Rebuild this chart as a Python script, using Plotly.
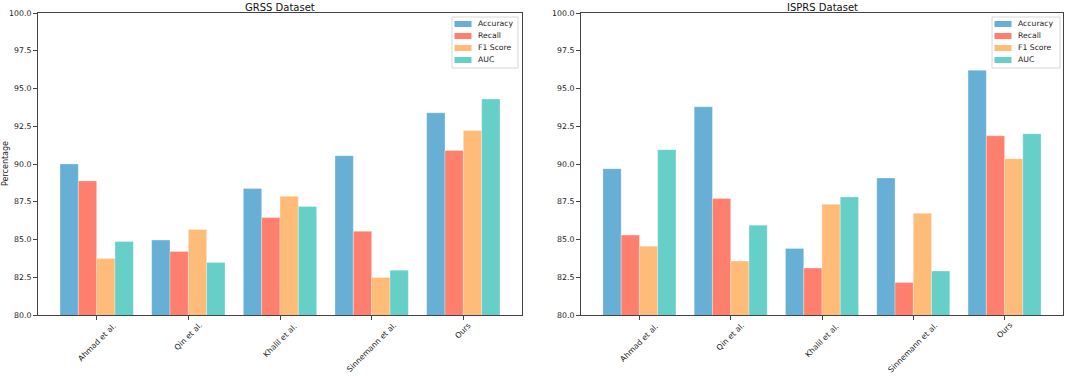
import plotly.graph_objects as go

methods = ["Ahmad et al.", "Qin et al.", "Khalil et al.", "Sinnemann et al.", "Ours"]
metrics = ["Accuracy", "Recall", "F1 Score", "AUC"]
colors = ["#67AFD5", "#FF7F6E", "#FFBB78", "#66CFC8"]

grss_accuracy = [90.00, 84.96, 88.37, 90.55, 93.39]
grss_recall = [88.88, 84.21, 86.45, 85.55, 90.90]
grss_f1 = [83.74, 85.66, 87.86, 82.49, 92.22]
grss_auc = [84.87, 83.48, 87.18, 82.97, 94.30]

isprs_accuracy = [89.69, 93.79, 84.41, 89.07, 96.21]
isprs_recall = [85.29, 87.71, 83.11, 82.16, 91.87]
isprs_f1 = [84.56, 83.57, 87.33, 86.74, 90.35]
isprs_auc = [90.95, 85.95, 87.82, 82.91, 92.00]

grss = [grss_accuracy, grss_recall, grss_f1, grss_auc]
isprs = [isprs_accuracy, isprs_recall, isprs_f1, isprs_auc]

W, H = 1065, 376
FONT = "DejaVu Sans"
TXT = "#222"
TICK_SIZE = 7.8

fig = go.Figure()

for i, m in enumerate(metrics):
    fig.add_trace(go.Bar(
        x=methods, y=grss[i], name=m, marker_color=colors[i],
        marker_line_width=0.6, marker_line_color="rgba(255,255,255,0.5)",
        xaxis="x", yaxis="y", showlegend=False, offsetgroup=str(i),
    ))
for i, m in enumerate(metrics):
    fig.add_trace(go.Bar(
        x=methods, y=isprs[i], name=m, marker_color=colors[i],
        marker_line_width=0.6, marker_line_color="rgba(255,255,255,0.5)",
        xaxis="x2", yaxis="y2", showlegend=False, offsetgroup=str(i),
    ))

left1, right1 = 38 / W, 522 / W
left2, right2 = 581 / W, 1063 / W
top, bottom = 1 - 13 / H, 1 - 315 / H

axis_common = dict(
    showline=True, linecolor="#444", linewidth=1, mirror=True,
    ticks="outside", ticklen=4, tickcolor="#444",
    tickfont=dict(family=FONT, size=TICK_SIZE, color=TXT),
    showgrid=False, zeroline=False, automargin=False,
)

# x tick labels are drawn as rotated, centred annotations (matplotlib rotation=45, ha='center')
xcommon = dict(axis_common, type="category", range=[-0.64, 4.64], showticklabels=False)
ycommon = dict(axis_common, range=[80, 100], dtick=2.5, tick0=80, tickformat=".1f")

shapes = []
annotations = []

def px_x(v):
    return v / W

def px_y(v):
    return 1 - v / H

for xref in ["x", "x2"]:
    for name in methods:
        annotations.append(dict(
            text=name, x=name, xref=xref, y=bottom, yref="paper",
            xanchor="center", yanchor="top", yshift=-5, textangle=-45,
            showarrow=False, borderpad=0,
            font=dict(family=FONT, size=TICK_SIZE, color=TXT),
        ))

# manual legends (matplotlib-style compact boxes)
for box_left, box_right in [(452, 518), (992, 1060)]:
    shapes.append(dict(
        type="rect", xref="paper", yref="paper",
        x0=px_x(box_left), x1=px_x(box_right), y0=px_y(68), y1=px_y(17),
        line=dict(color="#d8d8d8", width=1), fillcolor="rgba(255,255,255,0.85)", layer="above",
    ))
    for i, m in enumerate(metrics):
        yc = 24 + 12 * i
        shapes.append(dict(
            type="rect", xref="paper", yref="paper",
            x0=px_x(box_left + 2.5), x1=px_x(box_left + 19.5),
            y0=px_y(yc + 3), y1=px_y(yc - 3),
            line=dict(width=0), fillcolor=colors[i], layer="above",
        ))
        annotations.append(dict(
            text=m, x=px_x(box_left + 24), y=px_y(yc), xref="paper", yref="paper",
            xanchor="left", yanchor="middle", showarrow=False,
            font=dict(family=FONT, size=7.7, color=TXT),
        ))

annotations += [
    dict(text="GRSS Dataset", x=(left1 + right1) / 2, y=top, xref="paper", yref="paper",
         xanchor="center", yanchor="bottom", showarrow=False, yshift=-2,
         font=dict(family=FONT, size=10, color="#111")),
    dict(text="ISPRS Dataset", x=(left2 + right2) / 2, y=top, xref="paper", yref="paper",
         xanchor="center", yanchor="bottom", showarrow=False, yshift=-2,
         font=dict(family=FONT, size=10, color="#111")),
    dict(text="Percentage", x=5 / W, y=(top + bottom) / 2, xref="paper", yref="paper",
         xanchor="center", yanchor="middle", showarrow=False, textangle=-90,
         font=dict(family=FONT, size=8, color=TXT)),
]

fig.update_layout(
    width=W, height=H,
    margin=dict(l=0, r=0, t=0, b=0, autoexpand=False),
    paper_bgcolor="white", plot_bgcolor="white",
    barmode="group", bargap=0.2, bargroupgap=0,
    font=dict(family=FONT, size=9, color=TXT),
    xaxis=dict(xcommon, domain=[left1, right1], anchor="y"),
    yaxis=dict(ycommon, domain=[bottom, top], anchor="x"),
    xaxis2=dict(xcommon, domain=[left2, right2], anchor="y2"),
    yaxis2=dict(ycommon, domain=[bottom, top], anchor="x2"),
    showlegend=False,
    shapes=shapes,
    annotations=annotations,
)

fig.write_html(
    "out.html",
    config={"displayModeBar": False},
    post_script="document.body.style.margin='0';document.body.style.overflow='hidden';",
)
